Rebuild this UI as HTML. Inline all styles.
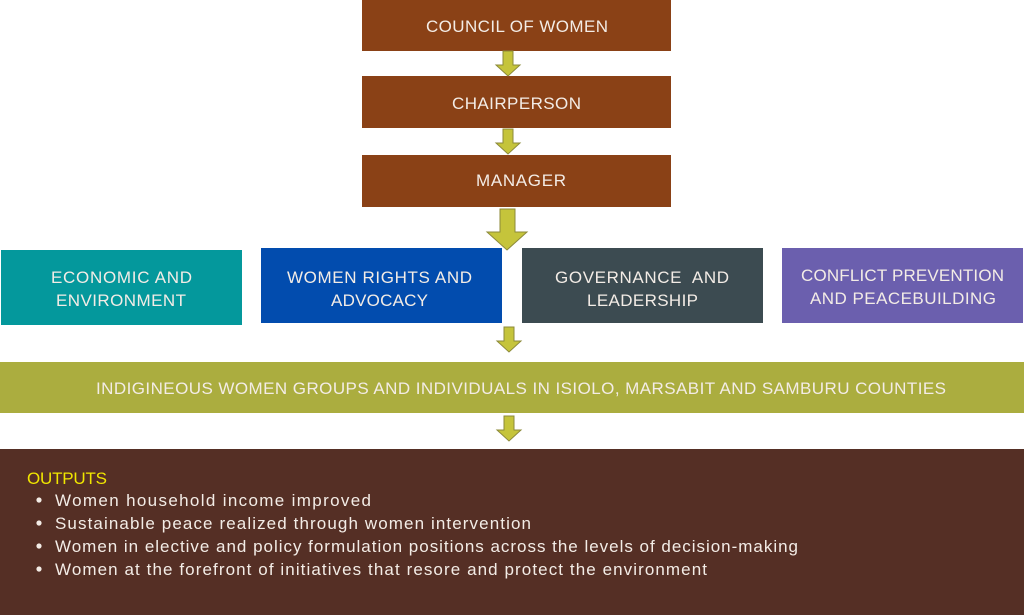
<!DOCTYPE html>
<html><head><meta charset="utf-8"><style>
html,body{margin:0;padding:0;background:#fff;}
svg{display:block;}
text{font-family:"Liberation Sans",sans-serif;font-size:17px;fill:#f3ece6;}
</style></head><body>
<svg width="1024" height="615" viewBox="0 0 1024 615" xmlns="http://www.w3.org/2000/svg">
<defs>
<g id="arr"><polygon points="-5,0 5,0 5,14 12,14 0,25 -12,14 -5,14" fill="#c5c43b" stroke="#8c8a3a" stroke-width="1"/></g>
</defs>
<rect x="362" y="0" width="309" height="51" fill="#8a4116"/>
<rect x="362" y="76" width="309" height="52" fill="#8a4116"/>
<rect x="362" y="155" width="309" height="52" fill="#8a4116"/>
<use href="#arr" x="508" y="51"/>
<use href="#arr" x="508" y="129"/>
<polygon points="500,209 515,209 515,232 527,232 507,250 487,232 500,232" fill="#c5c43b" stroke="#8c8a3a" stroke-width="1"/>
<rect x="1" y="250" width="241" height="75" fill="#04989c"/>
<rect x="261" y="248" width="241" height="75" fill="#024cae"/>
<rect x="522" y="248" width="241" height="75" fill="#3c4b51"/>
<rect x="782" y="248" width="241" height="75" fill="#6b5fae"/>
<use href="#arr" x="509" y="327"/>
<rect x="0" y="362" width="1024" height="51" fill="#abad3f"/>
<use href="#arr" x="509" y="416"/>
<rect x="0" y="449" width="1024" height="166" fill="#552f25"/>
<text x="426" y="32" textLength="182">COUNCIL OF WOMEN</text>
<text x="452" y="109" textLength="129">CHAIRPERSON</text>
<text x="476" y="186" textLength="90">MANAGER</text>
<text x="51" y="283" textLength="141">ECONOMIC AND</text>
<text x="56" y="306" textLength="130">ENVIRONMENT</text>
<text x="287" y="283" textLength="185">WOMEN RIGHTS AND</text>
<text x="331" y="306" textLength="97">ADVOCACY</text>
<text x="555" y="283" textLength="174" xml:space="preserve">GOVERNANCE  AND</text>
<text x="587" y="306" textLength="111">LEADERSHIP</text>
<text x="801" y="281" textLength="203">CONFLICT PREVENTION</text>
<text x="810" y="304" textLength="186">AND PEACEBUILDING</text>
<text x="96" y="394" textLength="850">INDIGINEOUS WOMEN GROUPS AND INDIVIDUALS IN ISIOLO, MARSABIT AND SAMBURU COUNTIES</text>
<text x="27" y="484" textLength="80" style="fill:#f0e600">OUTPUTS</text>
<g fill="#f3ece6"><circle cx="39" cy="500" r="2.6"/><circle cx="39" cy="523" r="2.6"/><circle cx="39" cy="546" r="2.6"/><circle cx="39" cy="569" r="2.6"/></g>
<text x="55" y="506" textLength="316">Women household income improved</text>
<text x="55" y="529" textLength="476">Sustainable peace realized through women intervention</text>
<text x="55" y="552" textLength="743">Women in elective and policy formulation positions across the levels of decision-making</text>
<text x="55" y="575" textLength="652">Women at the forefront of initiatives that resore and protect the environment</text>
</svg>
</body></html>
